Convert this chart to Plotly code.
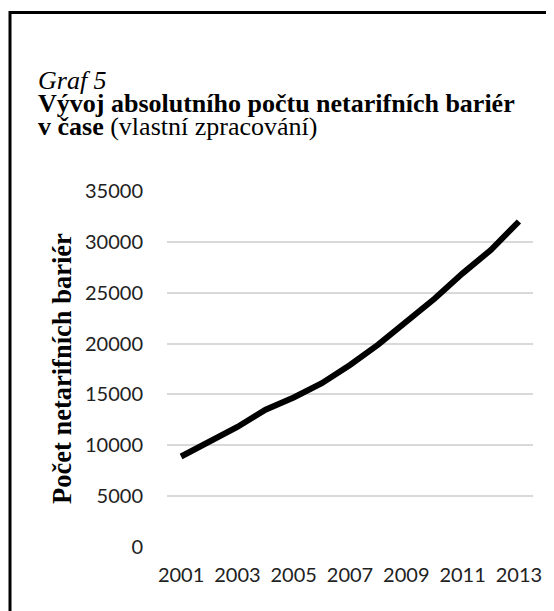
import plotly.graph_objects as go

years = [2001, 2002, 2003, 2004, 2005, 2006, 2007, 2008, 2009, 2010, 2011, 2012, 2013]
barriers = [8900, 10400, 11800, 13500, 14700, 16100, 17900, 19900, 22200, 24400, 26900, 29200, 32000]
x_ticks = [2001, 2003, 2005, 2007, 2009, 2011, 2013]
y_ticks = [0, 5000, 10000, 15000, 20000, 25000, 30000, 35000]

# page body has an 8px margin, so the figure is sized to fit the window
OFF = 8
W, H = 554 - OFF, 611 - OFF
L, R, T, B = 167 - OFF, 21, 191 - OFF, 64
pw, ph = W - L - R, H - T - B

def px(x):
    return (x - OFF - L) / pw

def py(y):
    return (H - B - (y - OFF)) / ph

fig = go.Figure()
fig.add_trace(go.Scatter(
    x=years, y=barriers, mode="lines",
    line=dict(color="black", width=6),
    showlegend=False, hoverinfo="x+y",
))

serif = "Liberation Serif, Times New Roman, serif"
tickfont = dict(family="Lato, Calibri, sans-serif", size=20, color="#222222")

fig.update_layout(
    width=W, height=H,
    margin=dict(l=L, r=R, t=T, b=B),
    paper_bgcolor="white", plot_bgcolor="white",
    xaxis=dict(
        range=[2000.5, 2013.5], tickmode="array", tickvals=x_ticks,
        ticktext=[str(v) for v in x_ticks], showgrid=False, zeroline=False,
        showline=False, ticks="outside", ticklen=10, tickcolor="rgba(0,0,0,0)",
        tickfont=tickfont, fixedrange=True,
    ),
    yaxis=dict(
        range=[0, 35000], tickmode="array", tickvals=y_ticks,
        ticktext=[str(v) for v in y_ticks], showgrid=True, gridcolor="#d9d9d9",
        gridwidth=1.5, zeroline=False, showline=False, ticks="outside",
        ticklen=19, tickcolor="rgba(0,0,0,0)", tickfont=tickfont, fixedrange=True,
    ),
    shapes=[dict(
        type="rect", xref="paper", yref="paper",
        x0=px(10), x1=px(580), y0=py(640), y1=py(12.5),
        line=dict(color="black", width=3), fillcolor="rgba(0,0,0,0)", layer="below",
    )],
    annotations=[
        dict(text="<i>Graf 5</i>", xref="paper", yref="paper", x=px(35.5), y=py(97),
             xanchor="left", yanchor="bottom", showarrow=False,
             font=dict(family=serif, size=26, color="black")),
        dict(text="<b>Vývoj absolutního počtu netarifních bariér</b>", xref="paper", yref="paper",
             x=px(35.5), y=py(120), xanchor="left", yanchor="bottom", showarrow=False,
             font=dict(family=serif, size=26, color="black")),
        dict(text="<b>v čase</b> (vlastní zpracování)", xref="paper", yref="paper",
             x=px(35.5), y=py(143), xanchor="left", yanchor="bottom", showarrow=False,
             font=dict(family=serif, size=26, color="black")),
        dict(text="<b>Počet netarifních bariér</b>", xref="paper", yref="paper",
             x=px(62), y=0.5, xanchor="center", yanchor="middle", textangle=-90,
             showarrow=False, font=dict(family=serif, size=26.5, color="black")),
    ],
)

fig.write_html("out.html")
